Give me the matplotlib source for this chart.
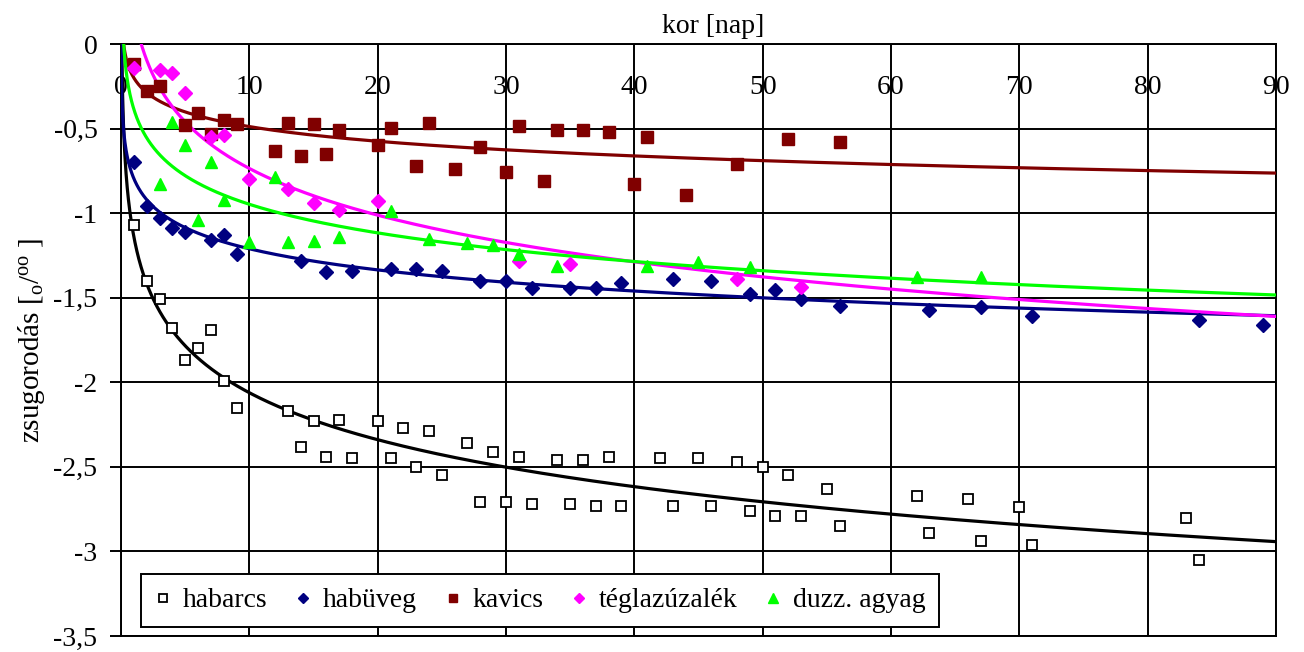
import numpy as np
import matplotlib
matplotlib.use("Agg")
import matplotlib.pyplot as plt
from matplotlib.ticker import FixedLocator

plt.rcParams['font.family'] = ['Liberation Serif', 'DejaVu Serif']
plt.rcParams['mathtext.fontset'] = 'custom'
plt.rcParams['mathtext.rm'] = 'Liberation Serif'
plt.rcParams['mathtext.it'] = 'Liberation Serif:italic'

# habarcs
habarcs_x = [1, 2, 3, 4, 5, 6, 7, 8, 9, 13, 14, 15, 16, 17, 18, 20, 21, 22, 23, 24, 25,
             27, 28, 29, 30, 31, 32, 34, 35, 36, 37, 38, 39, 42, 43, 45, 46, 48, 49, 50,
             51, 52, 53, 55, 56, 62, 63, 66, 67, 70, 71, 83, 84]
habarcs_y = [-1.07, -1.40, -1.51, -1.68, -1.87, -1.80, -1.69, -1.99, -2.15,
             -2.17, -2.38, -2.23, -2.44, -2.22, -2.45,
             -2.23, -2.45, -2.27, -2.50, -2.29, -2.55,
             -2.36, -2.71, -2.41, -2.71, -2.44, -2.72,
             -2.46, -2.72, -2.46, -2.73, -2.44, -2.73,
             -2.45, -2.73, -2.45, -2.73, -2.47, -2.76, -2.50, -2.79, -2.55, -2.79,
             -2.63, -2.85,
             -2.67, -2.89, -2.69, -2.94, -2.74, -2.96,
             -2.80, -3.05]

# habüveg
habuveg_x = [1, 2, 3, 4, 5, 7, 8, 9, 14, 16, 18, 21, 23, 25, 28, 30, 32, 35, 37, 39,
             43, 46, 49, 51, 53, 56, 63, 67, 71, 84, 89]
habuveg_y = [-0.70, -0.96, -1.03, -1.09, -1.11, -1.16, -1.13, -1.24,
             -1.28, -1.35, -1.34, -1.33,
             -1.33, -1.34, -1.40, -1.40, -1.44,
             -1.44, -1.44, -1.41, -1.39, -1.40,
             -1.48, -1.455, -1.505, -1.55,
             -1.57, -1.555, -1.61, -1.63, -1.66]

# kavics
kavics_x = [1, 2, 3, 5, 6, 7, 8, 9, 12, 13, 14, 15, 16, 17, 20, 21, 23, 24, 26, 28,
            30, 31, 33, 34, 36, 38, 40, 41, 44, 48, 52, 56]
kavics_y = [-0.12, -0.28, -0.25, -0.48, -0.41, -0.53, -0.45, -0.475,
            -0.63, -0.465, -0.66, -0.475, -0.65, -0.51,
            -0.60, -0.495, -0.72, -0.465, -0.74, -0.61,
            -0.755, -0.485, -0.81, -0.51, -0.51, -0.52,
            -0.83, -0.55, -0.89, -0.71, -0.56, -0.58]

# téglazúzalék
tegla_x = [1, 3, 4, 5, 7, 8, 10, 13, 15, 17, 20, 31, 35, 48, 53]
tegla_y = [-0.14, -0.155, -0.17, -0.29, -0.55, -0.54, -0.80, -0.86, -0.94, -0.98,
           -0.93, -1.28, -1.30, -1.39, -1.435]

# duzz. agyag
duzz_x = [3, 4, 5, 6, 7, 8, 10, 12, 13, 15, 17, 21, 24, 27, 29, 31, 34, 41, 45, 49, 62, 67]
duzz_y = [-0.83, -0.46, -0.60, -1.04, -0.70, -0.92, -1.17, -0.785, -1.17, -1.165,
          -1.14, -0.99, -1.15, -1.175, -1.19, -1.24, -1.31, -1.31, -1.29, -1.32,
          -1.375, -1.38]

x_ticks = [0, 10, 20, 30, 40, 50, 60, 70, 80, 90]
y_ticks = [0, -0.5, -1, -1.5, -2, -2.5, -3, -3.5]
y_tick_labels = ['0', '-0,5', '-1', '-1,5', '-2', '-2,5', '-3', '-3,5']

series = [
    ('habarcs', habarcs_x, habarcs_y, 'black', dict(marker='s', ms=7, mfc='white', mec='black', mew=1.3)),
    ('habüveg', habuveg_x, habuveg_y, '#000080', dict(marker='D', ms=7, mfc='#000080', mec='#000080')),
    ('kavics', kavics_x, kavics_y, '#800000', dict(marker='s', ms=8, mfc='#800000', mec='#800000')),
    ('téglazúzalék', tegla_x, tegla_y, '#FF00FF', dict(marker='D', ms=7, mfc='#FF00FF', mec='#FF00FF')),
    ('duzz. agyag', duzz_x, duzz_y, '#00FF00', dict(marker='^', ms=9, mfc='#00FF00', mec='#00FF00')),
]

fig = plt.figure(figsize=(13.04, 6.52), dpi=100)
ax = fig.add_axes([0.0928, 0.0245, 0.8857, 0.908])

# logaritmikus trendvonalak (Excel-szerű illesztés)
xx = np.linspace(0.005, 90, 3000)
for name, x, y, col, mk in series:
    a, b = np.polyfit(np.log(x), y, 1)
    ax.plot(xx, a * np.log(xx) + b, color=col, lw=2.3, zorder=3)

for name, x, y, col, mk in series:
    ax.plot(x, y, ls='none', label=name, zorder=4, **mk)

ax.set_xlim(0, 90)
ax.set_ylim(-3.5, 0)
ax.xaxis.set_major_locator(FixedLocator(x_ticks))
ax.yaxis.set_major_locator(FixedLocator(y_ticks))
ax.set_yticklabels(y_tick_labels)
ax.grid(True, color='black', lw=1.4)
ax.set_axisbelow(True)
for sp in ax.spines.values():
    sp.set_color('black')
    sp.set_linewidth(1.4)

ax.xaxis.tick_top()
ax.tick_params(axis='x', length=0, pad=-40, labelsize=20)
ax.tick_params(axis='y', direction='out', length=8, width=1.4, pad=9, labelsize=20)
for lbl in ax.get_xticklabels():
    lbl.set_verticalalignment('bottom')

ax.xaxis.set_label_position('top')
ax.set_xlabel('kor [nap]', fontsize=20)
ax.xaxis.set_label_coords(0.513, 1.018)
ax.set_ylabel(r'zsugorodás [$_{\mathrm{o}}$/$^{\mathrm{oo}}$ ]', fontsize=21)
ax.yaxis.set_label_coords(-0.064, 0.5)

leg = ax.legend(loc='lower left', bbox_to_anchor=(0.017, 0.015), ncol=5,
                prop={'family': 'Liberation Serif', 'size': 20},
                frameon=True, fancybox=False, framealpha=1, edgecolor='black',
                handlelength=0.6, handletextpad=0.4, columnspacing=1.0,
                borderpad=0.5, borderaxespad=0, markerscale=0.75)
for t in leg.get_texts():
    t.set_fontfamily('Liberation Serif')
leg.get_frame().set_linewidth(1.4)
leg.set_zorder(10)

fig.savefig('out.png', dpi=100)
